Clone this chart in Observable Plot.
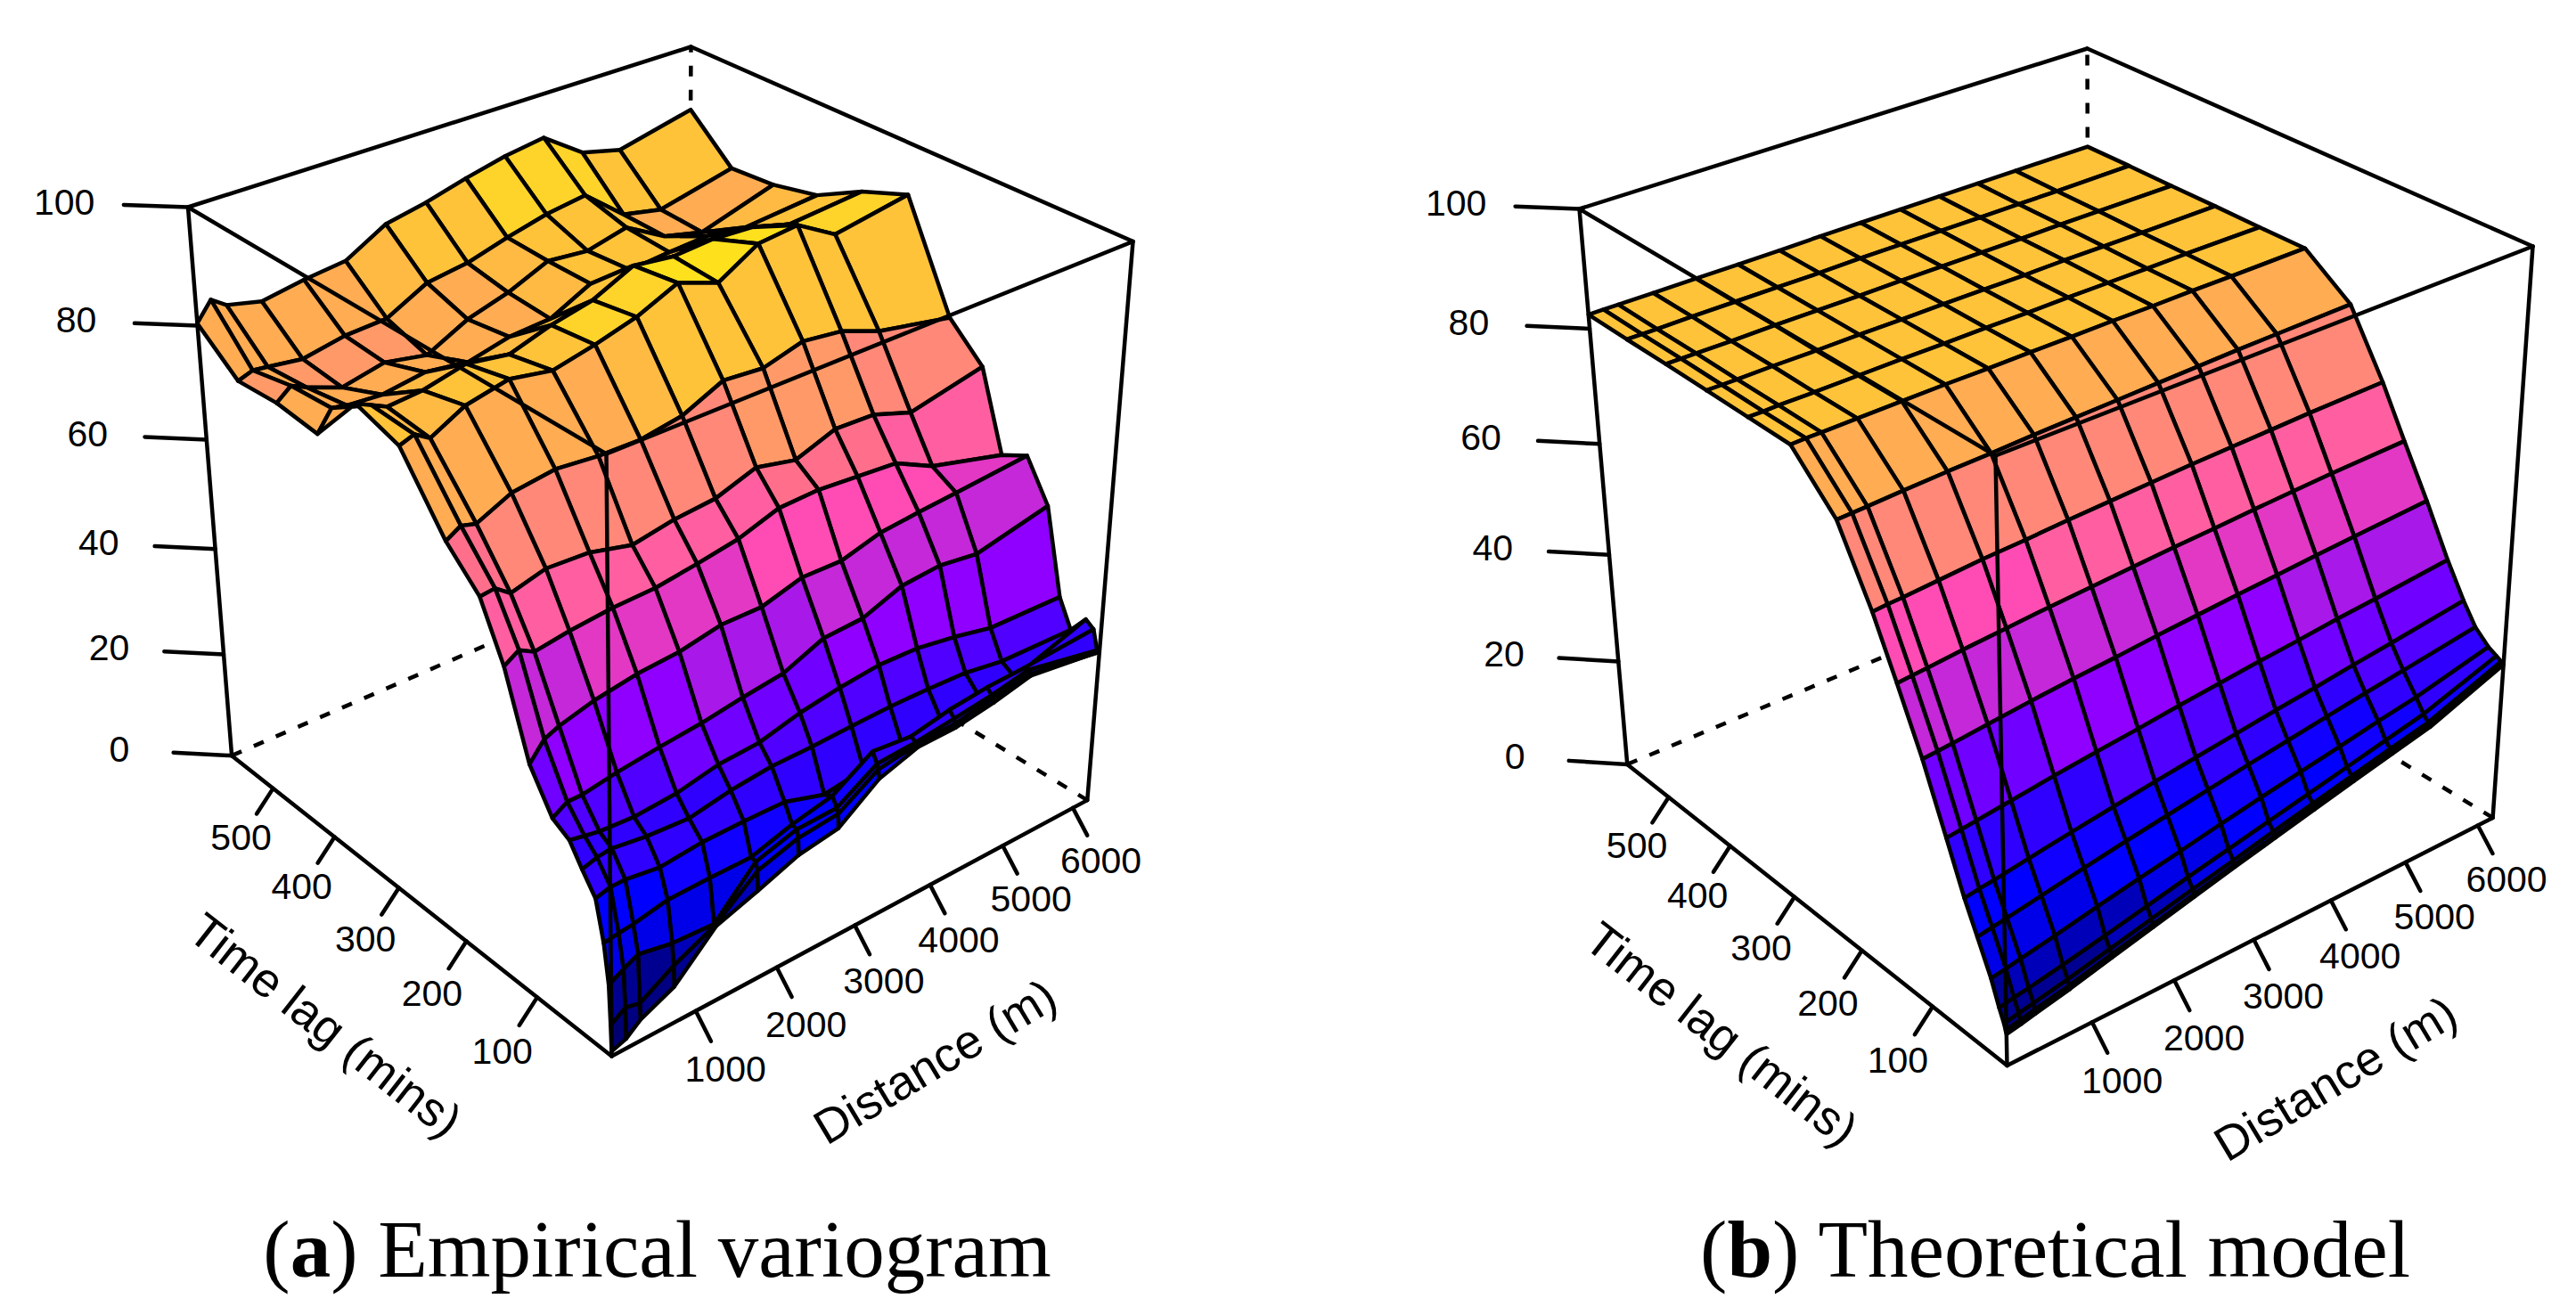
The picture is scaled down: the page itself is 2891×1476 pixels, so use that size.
<!DOCTYPE html>
<html>
<head>
<meta charset="utf-8">
<script src="https://cdn.jsdelivr.net/npm/d3@7"></script>
<script src="https://cdn.jsdelivr.net/npm/@observablehq/plot@0.6"></script>
<style>html,body{margin:0;padding:0;background:#fff}svg{display:block}</style>
</head>
<body>
<script>
// ---- data ----
const distances = [0,170,340,740,1240,1740,2240,2740,3240,3740,4240,4740,5240,6210];
const lags = [0,1,3,9,19,36,52,74,103,134,164,208,268,328,388,449,509,570];
const distanceTicks = [1000,2000,3000,4000,5000,6000];
const lagTicks = [100,200,300,400,500];
const gammaTicks = [0,20,40,60,80,100];

const empirical = [
 [0.9,1.8,3.9,6.7,13.8,16.3,19,20.2,25.5,27.8,27.9,29,30.6,28.6],
 [5.6,7.4,6.8,10.4,13.9,19.8,22,22.7,27.2,28.2,28.5,29.8,30.8,28.4],
 [12.7,14.2,15.5,14.3,13.8,21.3,23.4,23.6,28,28.4,29.2,30.1,31.4,28.6],
 [19.6,20,20.3,21.5,21.6,21.5,23.7,25.2,29.7,28.9,30.3,31,31.2,32],
 [26.5,27.2,27.2,26.3,27,27,26.8,24.5,25.5,26.3,27.7,28.7,28.6,33],
 [29.9,30.7,31,30.1,29.6,30.9,31.6,31.6,31.8,31.9,31.7,31.3,30.1,29.6],
 [33.4,32.9,32.4,32,32.5,34,34.4,36.2,37.3,38,37.7,36.5,34.9,34.4],
 [35.1,36.7,36.7,37.7,38.6,39.3,40.4,41.3,44.2,44.5,47.1,47.6,46.6,49.4],
 [41.7,44.8,45.9,47.5,48.7,49.2,50.6,50.5,52.5,52.3,54.2,54.8,55.3,56.3],
 [55.6,57.2,55.8,56.7,57.4,57.6,58.6,59.8,62.1,62.3,61.7,61.1,57.7,54.1],
 [64.7,65,63.1,64.7,64.3,62.5,63.8,64.4,66.8,65.2,67.7,67.4,65,67.8],
 [70.3,71.8,71.1,73.8,74.8,74.1,74,75.2,78.4,77.8,79.7,78.8,76.2,73.5],
 [81.3,82.2,80.6,83.7,85.3,84,85.6,87.6,90.7,88.2,92.3,93,89,91.2],
 [83.8,82.6,81.4,81.9,83.6,82.5,84.8,86.4,89.7,88.8,89.3,88.9,87,88.1],
 [74.4,77.8,77.3,76.9,78,77,78.7,79.2,82.7,82.6,83.2,83.6,82.7,83.8],
 [75.2,77.2,76,73.8,75.4,74,77.6,79.7,82.7,82,83.7,79.7,78,82],
 [74.7,75.6,75.3,74.5,75.9,76.3,80,81,83,84.7,85.7,79.9,78.4,81.4],
 [80.4,83.6,81.8,80.4,81.6,82.4,86.4,87.8,89.7,91.3,92.3,87.4,85.6,88.6]
];
const theoretical = [
 [5.7,6.2,6.8,8.1,10,11.8,13.6,15.4,17.1,18.8,20.5,22.1,23.7,28.8],
 [6.3,6.8,7.4,8.6,10.4,12.1,13.9,15.6,17.3,19,20.7,22.3,23.9,28.9],
 [7.3,7.8,8.3,9.5,11.2,12.9,14.6,16.2,17.9,19.5,21.1,22.7,24.2,29.1],
 [9.5,10,10.4,11.5,13,14.6,16.2,17.7,19.2,20.7,22.2,23.7,25.2,29.6],
 [13.7,14.1,14.6,15.7,17.2,18.6,19.9,21.3,22.6,23.8,25,26.3,27.4,30.4],
 [19.3,19.7,20.1,21.1,22.4,23.6,24.7,25.8,26.9,27.9,28.9,29.9,30.8,32.6],
 [24.5,24.9,25.2,26.1,27.2,28.2,29.2,30.1,31,31.9,32.7,33.6,34.4,36.1],
 [32.8,33.1,33.4,34.1,35,35.8,36.5,37.3,38,38.7,39.3,40,40.5,41.7],
 [43.6,43.8,44,44.6,45.3,45.9,46.4,47,47.5,48,48.4,48.9,49.3,50],
 [53.6,53.8,54,54.5,55,55.5,55.9,56.3,56.7,57,57.4,57.7,58,58.3],
 [62.9,63.1,63.2,63.6,64.1,64.4,64.8,65.1,65.4,65.7,65.9,66.1,66.3,66.5],
 [74.4,74.5,74.6,74.9,75.2,75.4,75.7,75.9,76.1,76.3,76.5,76.7,76.8,77],
 [82,82.1,82.1,82.2,82.3,82.4,82.4,82.5,82.5,82.6,82.6,82.7,82.7,82.8],
 [82.1,82.1,82.2,82.2,82.3,82.4,82.4,82.5,82.5,82.6,82.6,82.6,82.7,82.7],
 [82.2,82.2,82.2,82.3,82.3,82.4,82.4,82.5,82.5,82.5,82.6,82.6,82.6,82.7],
 [82.3,82.3,82.3,82.3,82.4,82.4,82.4,82.5,82.5,82.5,82.5,82.6,82.6,82.6],
 [82.3,82.3,82.3,82.4,82.4,82.4,82.4,82.5,82.5,82.5,82.5,82.5,82.5,82.6],
 [82.4,82.4,82.4,82.4,82.4,82.4,82.4,82.5,82.5,82.5,82.5,82.5,82.5,82.5]
];
const colorBreaks = [4,8,12,16,20,24,28,32,36,40,44,48,52,56,60,64,68,72,76,80,82,86,89,91];
const colorRange = ["#000070","#000080","#000090","#0000B8","#0000E8","#0000FF","#1000FF","#3000FF","#5000FF","#7000FF","#9000FF","#A818E8","#C428D8","#E238C4","#FF4CB4","#FF5FA0","#FF6F8C","#FF8878","#FF9A68","#FFAC52","#FFBA44","#FFC33A","#FFD42A","#FFE01C","#FFE818"];

// ---- perspective cameras: images of the box corners ----
const cameraA = {F:[680,509],R:[1271,270.5],L:[210.5,232],T:[775,52],Fb:[686,1185],Rb:[1220.5,899]};
const cameraB = {F:[2239,511],R:[2842,276],L:[1772,234],T:[2342,54],Fb:[2252,1195.5],Rb:[2791.5,907]};
const distMax = 6210, lagMax = 570;

function makeCamera({F,R,L,T,Fb,Rb}) {
  const a=T[0]-R[0], b=T[0]-L[0], c=T[1]-R[1], d=T[1]-L[1];
  const e=R[0]+L[0]-F[0]-T[0], f=R[1]+L[1]-F[1]-T[1];
  const det=a*d-b*c, p=(e*d-b*f)/det, q=(a*f-e*c)/det;
  const dir=[Rb[0]-Fb[0],Rb[1]-Fb[1]];
  const rhs=[(R[0]-Rb[0])*(1+p)+Fb[0]-F[0],(R[1]-Rb[1])*(1+p)+Fb[1]-F[1]];
  const r=(rhs[0]*dir[0]+rhs[1]*dir[1])/(dir[0]*dir[0]+dir[1]*dir[1]);
  const col=(P,k,i)=>P[i]*(1+k)-F[i];
  return (u,v,w)=>{
    const D=1+p*u+q*v+r*w;
    return [0,1].map(i=>(F[i]+col(R,p,i)*u+col(L,q,i)*v+col(Fb,r,i)*w)/D);
  };
}

function panelMarks(cameraSpec, surface, caption, captionX) {
  const cam=makeCamera(cameraSpec);
  const pt=(dist,lag,z)=>{const [x,y]=cam(dist/distMax,lag/lagMax,1-z/100);return {x,y};};
  // surface facets, far to near
  const facets=[];
  for(let i=lags.length-2;i>=0;i--) for(let j=distances.length-2;j>=0;j--){
    const c=[[i,j],[i,j+1],[i+1,j+1],[i+1,j],[i,j]];
    const val=d3.mean(c.slice(0,4),([a,b])=>surface[a][b]);
    c.forEach(([a,b])=>facets.push({...pt(distances[b],lags[a],surface[a][b]),cell:`${i}-${j}`,val}));
  }
  const seg=(id,A,B)=>[{...pt(...A),id},{...pt(...B),id}];
  const back=[...seg("a",[0,lagMax,0],[distMax,lagMax,0]),...seg("b",[distMax,0,0],[distMax,lagMax,0]),...seg("c",[distMax,lagMax,0],[distMax,lagMax,100])];
  const front=[
    ...seg("t1",[0,0,100],[distMax,0,100]),...seg("t2",[distMax,0,100],[distMax,lagMax,100]),
    ...seg("t3",[distMax,lagMax,100],[0,lagMax,100]),...seg("t4",[0,lagMax,100],[0,0,100]),
    ...seg("v1",[0,0,0],[0,0,100]),...seg("v2",[distMax,0,0],[distMax,0,100]),...seg("v3",[0,lagMax,0],[0,lagMax,100]),
    ...seg("b1",[0,0,0],[distMax,0,0]),...seg("b2",[0,0,0],[0,lagMax,0])
  ];
  const off=(u,v,w)=>{const [x,y]=cam(u,v,w);return {x,y};};
  const lab=0.068;
  const ticks=[];const labels=[];
  distanceTicks.forEach(t=>{const u=t/distMax;
    ticks.push({...off(u,0,1),id:"d"+t},{...off(u,-0.035,1.035),id:"d"+t});
    labels.push({...off(u,-lab,1+lab),text:String(t)});});
  lagTicks.forEach(t=>{const v=t/lagMax;
    ticks.push({...off(0,v,1),id:"l"+t},{...off(-0.035,v,1.035),id:"l"+t});
    labels.push({...off(-lab,v,1+lab),text:String(t)});});
  gammaTicks.forEach(t=>{const w=1-t/100;
    ticks.push({...off(0,1,w),id:"g"+t},{...off(-0.07,1.07,w),id:"g"+t});
    labels.push({...off(-0.135,1.135,w),text:String(t)});});
  const font="Liberation Sans";
  return [
    Plot.line(back,{x:"x",y:"y",z:"id",stroke:"black",strokeWidth:4.5,strokeDasharray:"12,15",strokeLinecap:"butt"}),
    Plot.line(facets,{x:"x",y:"y",z:"cell",fill:"val",stroke:"black",strokeWidth:4.5,curve:"linear"}),
    Plot.line(front,{x:"x",y:"y",z:"id",stroke:"black",strokeWidth:4.5}),
    Plot.line(ticks,{x:"x",y:"y",z:"id",stroke:"black",strokeWidth:4.5}),
    Plot.text(labels,{x:"x",y:"y",text:"text",fontSize:41,fontFamily:font,fill:"black"}),
    Plot.text([off(0.5,-0.17,1.17)],{x:"x",y:"y",text:()=>"Distance (m)",rotate:-31,fontSize:54,fontFamily:font,fill:"black"}),
    Plot.text([off(-0.17,0.5,1.17)],{x:"x",y:"y",text:()=>"Time lag (mins)",rotate:38,fontSize:54,fontFamily:font,fill:"black"}),
    Plot.text([{x:captionX,y:1403}],{x:"x",y:"y",text:()=>caption,fontSize:91,fontFamily:"Liberation Serif",fill:"black"})
  ];
}

const chart=Plot.plot({
  width:2891,height:1476,margin:0,
  x:{type:"linear",domain:[0,2891],range:[0,2891],axis:null},
  y:{type:"linear",domain:[0,1476],range:[0,1476],axis:null},
  color:{type:"threshold",domain:colorBreaks,range:colorRange,legend:false},
  style:{background:"white",overflow:"visible"},
  marks:[
    ...panelMarks(cameraA,empirical,"(a) Empirical variogram",737),
    ...panelMarks(cameraB,theoretical,"(b) Theoretical model",2306)
  ]
});
d3.select(chart).selectAll("text").each(function(){
  const m=this.textContent.match(/^\((\w)\) (.*)$/);
  if(!m) return;
  const s=d3.select(this);
  s.text("");
  s.append("tspan").text("(");
  s.append("tspan").attr("font-weight","bold").text(m[1]);
  s.append("tspan").text(") "+m[2]);
});
document.body.appendChild(chart);
</script>
</body>
</html>
